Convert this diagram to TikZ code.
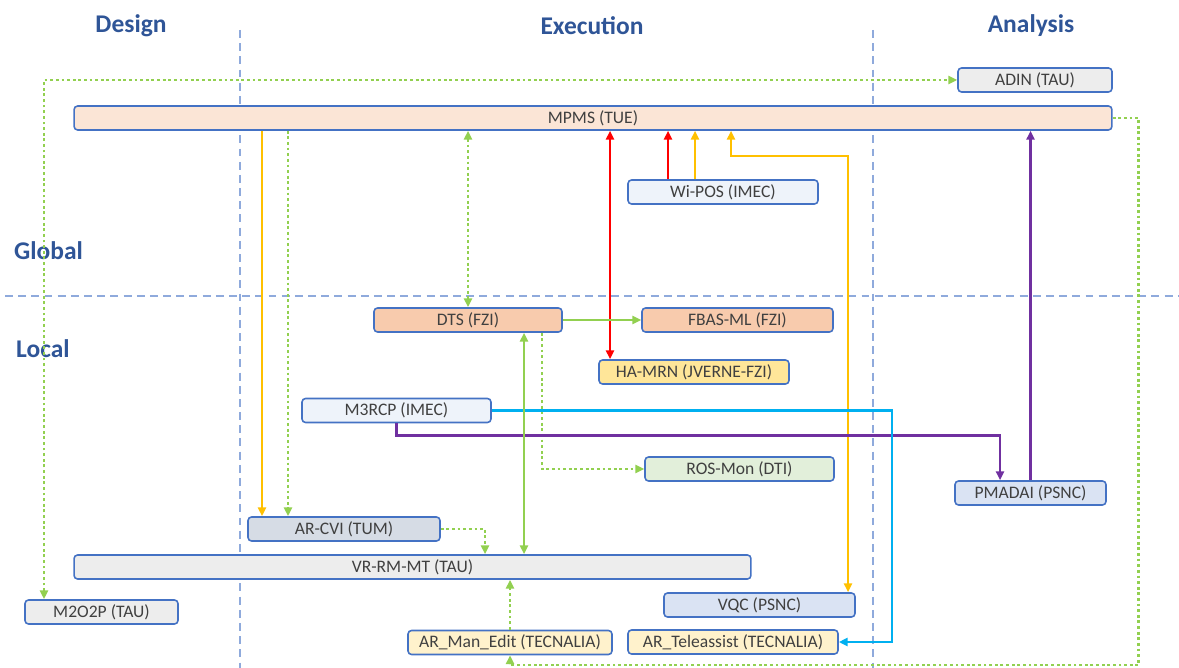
\documentclass[tikz,border=0pt]{standalone}
\usepackage{fontspec}
\setmainfont{Carlito}
\usetikzlibrary{arrows.meta}

\definecolor{boxline}{HTML}{4472C4}
\definecolor{headblue}{HTML}{2F5597}
\definecolor{sepline}{HTML}{8FAADC}
\definecolor{txtgray}{HTML}{404040}
\definecolor{fillgray}{HTML}{EDEDED}
\definecolor{fillpeach}{HTML}{FBE5D6}
\definecolor{fillsalmon}{HTML}{F8CBAD}
\definecolor{fillice}{HTML}{EEF3FA}
\definecolor{fillyellow}{HTML}{FFE699}
\definecolor{fillcream}{HTML}{FFF2CC}
\definecolor{fillmint}{HTML}{E2EFDA}
\definecolor{fillsky}{HTML}{DAE3F3}
\definecolor{fillslate}{HTML}{D6DCE5}
\definecolor{lgreen}{HTML}{92D050}
\definecolor{lorange}{HTML}{FFC000}
\definecolor{lred}{HTML}{FF0000}
\definecolor{lpurple}{HTML}{7030A0}
\definecolor{lcyan}{HTML}{00B0F0}

\begin{document}
\begin{tikzpicture}[
  x=0.02cm, y=-0.02cm,
  block/.style = {draw=boxline, line width=0.9pt, rounded corners=2pt, minimum height=0.48cm,
                  inner sep=0pt, text=txtgray, font=\fontsize{10}{12}\selectfont},
  head/.style = {text=headblue, font=\fontsize{14.5}{17}\selectfont\bfseries},
  sep/.style = {draw=sepline, line width=0.7pt, dash pattern=on 4.5pt off 3pt},
  arrow/.style = {line width=1.4pt, -{Triangle[width=4.5pt,length=5pt]}},
  both/.style = {line width=1.4pt, {Triangle[width=4.5pt,length=5pt]}-{Triangle[width=4.5pt,length=5pt]}},
  dots/.style = {draw=lgreen, line width=1.6pt, dash pattern=on 1.6pt off 1.6pt}
]
  \useasboundingbox (0,0) rectangle (1179,668);

  % Phases and levels
  \draw[sep] (240,30) -- (240,668);
  \draw[sep] (873,30) -- (873,668);
  \draw[sep] (5,296) -- (1179,296);

  \node[head] (design) at (131,26) {Design};
  \node[head] (execution) at (592,26) {Execution};
  \node[head] (analysis) at (1031,26) {Analysis};
  \node[head, anchor=west] (global) at (8,251) {Global};
  \node[head, anchor=west] (local) at (10,349) {Local};

  % Global tools
  \node[block, fill=fillgray, minimum width=3.08cm] (adin) at (1035,80) {ADIN (TAU)};
  \node[block, fill=fillpeach, minimum width=20.76cm] (mpms) at (593,118) {MPMS (TUE)};
  \node[block, fill=fillice, minimum width=3.8cm] (wipos) at (723,192) {Wi-POS (IMEC)};

  % Local tools
  \node[block, fill=fillsalmon, minimum width=3.76cm] (dts) at (468,320) {DTS (FZI)};
  \node[block, fill=fillsalmon, minimum width=3.82cm] (fbasml) at (737.5,320) {FBAS-ML (FZI)};
  \node[block, fill=fillyellow, minimum width=3.8cm] (hamrn) at (694,372) {HA-MRN (JVERNE-FZI)};
  \node[block, fill=fillice, minimum width=3.78cm] (m3rcp) at (396.5,410.5) {M3RCP (IMEC)};
  \node[block, fill=fillmint, minimum width=3.78cm] (rosmon) at (739.5,469) {ROS-Mon (DTI)};
  \node[block, fill=fillsky, minimum width=3.02cm] (pmadai) at (1030.5,493) {PMADAI (PSNC)};
  \node[block, fill=fillslate, minimum width=3.84cm] (arcvi) at (344,529) {AR-CVI (TUM)};
  \node[block, fill=fillgray, minimum width=13.54cm] (vrrmmt) at (412.5,567) {VR-RM-MT (TAU)};
  \node[block, fill=fillgray, minimum width=3.06cm] (m2o2p) at (101.5,612) {M2O2P (TAU)};
  \node[block, fill=fillsky, minimum width=3.82cm] (vqc) at (759.5,605) {VQC (PSNC)};
  \node[block, fill=fillcream, minimum width=4.08cm] (armanedit) at (510,642.5) {AR\_Man\_Edit (TECNALIA)};
  \node[block, fill=fillcream, minimum width=4.2cm] (arteleassist) at (733,642) {AR\_Teleassist (TECNALIA)};

  % Dotted links
  \draw[both, dots] (m2o2p.north -| 44,0) |- (adin.west);
  \draw[arrow, dots] (mpms.east) -- ++(26,0) -- ++(0,547) -| (armanedit.south);
  \draw[arrow, dots] (mpms.south -| 288,0) -- (arcvi.north -| 288,0);
  \draw[both, dots] (mpms.south -| dts.north) -- (dts.north);
  \draw[arrow, dots] (dts.south -| 542,0) |- (rosmon.west);
  \draw[arrow, dots] (arcvi.east) -| (vrrmmt.north -| 485,0);
  \draw[arrow, dots] (armanedit.north) -- (vrrmmt.south -| armanedit.north);

  % Solid links
  \draw[arrow, lorange] (mpms.south -| 262,0) -- (arcvi.north -| 262,0);
  \draw[both, lred] (mpms.south -| 610,0) -- (hamrn.north -| 610,0);
  \draw[arrow, lred] (wipos.north -| 668,0) -- (mpms.south -| 668,0);
  \draw[arrow, lorange] (wipos.north -| 695,0) -- (mpms.south -| 695,0);
  \draw[both, lorange] (mpms.south -| 731,0) -- ++(0,25) -| (vqc.north -| 848,0);
  \draw[arrow, lpurple] (pmadai.north) -- (mpms.south -| pmadai.north);
  \draw[arrow, lpurple] (m3rcp.south) -- ++(0,12) -| (pmadai.north -| 1000,0);
  \draw[arrow, lcyan] (m3rcp.east) -- ++(400,0) |- (arteleassist.east);
  \draw[arrow, lgreen] (dts.east) -- (fbasml.west);
  \draw[both, lgreen] (dts.south -| 524,0) -- (vrrmmt.north -| 524,0);

\end{tikzpicture}
\end{document}
